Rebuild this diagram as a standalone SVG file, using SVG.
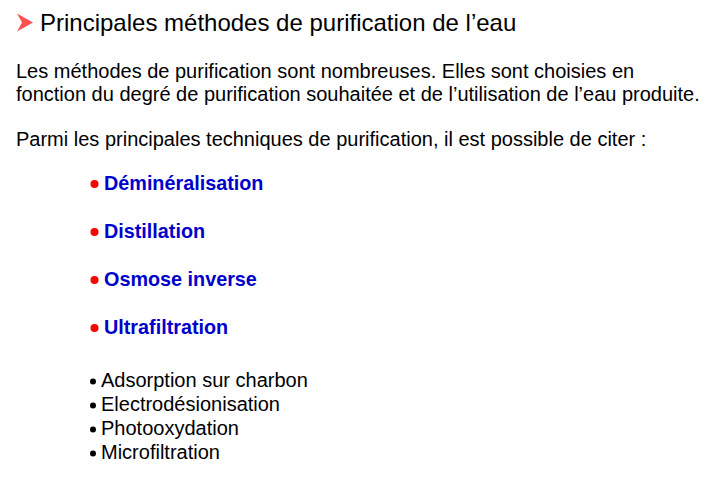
<svg xmlns="http://www.w3.org/2000/svg" width="715" height="496" viewBox="0 0 715 496">
<style>
.t{font-family:"Liberation Sans",Arial,sans-serif;fill:#000}
.title{font-size:24px}
.p{font-size:20px}
.b{font-family:"Liberation Sans",Arial,sans-serif;font-size:19.8px;font-weight:bold;fill:#0000CC}
.rd{fill:#FF0000}
.s{font-size:20px}
</style>
<rect width="715" height="496" fill="#fff"/>
<g id="title">
<polygon points="17,13.5 33,22.5 17,31.5 22,22.5" fill="#FF5050"/>
<text class="t title" x="40" y="31">Principales méthodes de purification de l’eau</text>
</g>
<g id="intro">
<text class="t p" x="16" y="78">Les méthodes de purification sont nombreuses. Elles sont choisies en</text>
<text class="t p" x="16" y="101">fonction du degré de purification souhaitée et de l’utilisation de l’eau produite.</text>
<text class="t p" x="16" y="146">Parmi les principales techniques de purification, il est possible de citer :</text>
</g>
<g id="main-list">
<circle class="rd" cx="94.5" cy="184" r="4"/>
<text class="b" x="104" y="190">Déminéralisation</text>
<circle class="rd" cx="94.5" cy="232" r="4"/>
<text class="b" x="104" y="238">Distillation</text>
<circle class="rd" cx="94.5" cy="280" r="4"/>
<text class="b" x="104" y="286">Osmose inverse</text>
<circle class="rd" cx="94.5" cy="328" r="4"/>
<text class="b" x="104" y="334">Ultrafiltration</text>
</g>
<g id="other-list">
<circle cx="93" cy="381.5" r="3"/>
<text class="t s" x="101" y="387">Adsorption sur charbon</text>
<circle cx="93" cy="405.5" r="3"/>
<text class="t s" x="101" y="411">Electrodésionisation</text>
<circle cx="93" cy="429.5" r="3"/>
<text class="t s" x="101" y="435">Photooxydation</text>
<circle cx="93" cy="453.5" r="3"/>
<text class="t s" x="101" y="459">Microfiltration</text>
</g>
</svg>
